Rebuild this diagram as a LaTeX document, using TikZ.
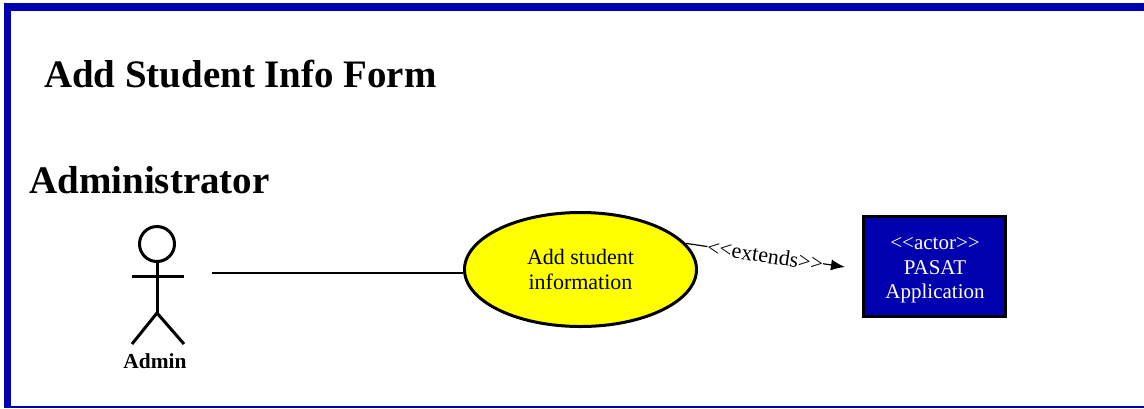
\documentclass[tikz,border=0pt]{standalone}
\usepackage{fontspec}
\usepackage{xcolor}
\setmainfont{Liberation Serif}
\usetikzlibrary{arrows.meta,shapes.geometric}
\definecolor{framecol}{RGB}{0,0,175}
\definecolor{casecol}{RGB}{255,255,0}

\begin{document}
\begin{tikzpicture}[x=1pt,y=-1pt,
  stick/.style={black, line width=3pt},
  heading/.style={font=\bfseries\fontsize{#1}{#1}\selectfont, inner sep=0pt},
  body/.style={font=\fontsize{#1}{24.5}\selectfont, align=center, inner sep=0pt}]
  \useasboundingbox (0,0) rectangle (1144,408);
  \fill[white] (0,0) rectangle (1144,408);

  % frame
  \fill[framecol] (4,3) rectangle (1144,11);
  \fill[framecol] (4,3) rectangle (11,408);
  \fill[framecol] (4,406) rectangle (1144,408);

  \node[heading=38.9, anchor=base west] (title) at (44,87) {Add Student Info Form};
  \node[heading=39, anchor=base west] (role) at (29,193) {Administrator};

  % actor
  \node[stick, draw, circle, minimum size=35pt, inner sep=0pt] (head) at (157,244) {};
  \coordinate (hip) at (157,313);
  \coordinate (lefthand) at (132,276);
  \coordinate (righthand) at (184,276);
  \coordinate (leftfoot) at (132,344);
  \coordinate (rightfoot) at (184,344);
  \draw[stick] (head) -- (hip);
  \draw[stick] (lefthand) -- (righthand);
  \draw[stick] (leftfoot) -- (hip) -- (rightfoot);
  \node[heading=21.4] (admin) at (155,361) {Admin};

  % use case
  \node[draw, line width=3pt, fill=casecol, ellipse, minimum width=232pt, minimum height=114pt,
        inner sep=0pt, body=22] (addinfo) at (580.5,269.5) {Add student\\information};

  % application box
  \node[draw=black, line width=2.4pt, fill=framecol, minimum width=142pt, minimum height=100pt,
        inner sep=0pt] (pasat) at (934.5,266.5) {};
  \node[text=white, body=21] (pasatlabel) at (935,270.5) {<{}<actor>{}>\\PASAT\\Application};

  % connectors
  \coordinate (linestart) at (212,273);
  \draw[line width=1.2pt] (linestart) -- (linestart -| addinfo.west);
  \coordinate (tip) at (845,267);
  \draw[line width=1.2pt, -{Latex[length=14pt,width=11pt]}] (addinfo.14) -- node[sloped, fill=white, inner sep=0pt,
        font=\fontsize{22}{22}\selectfont] (extends) {<{}<extends>{}>} (tip);
\end{tikzpicture}
\end{document}
